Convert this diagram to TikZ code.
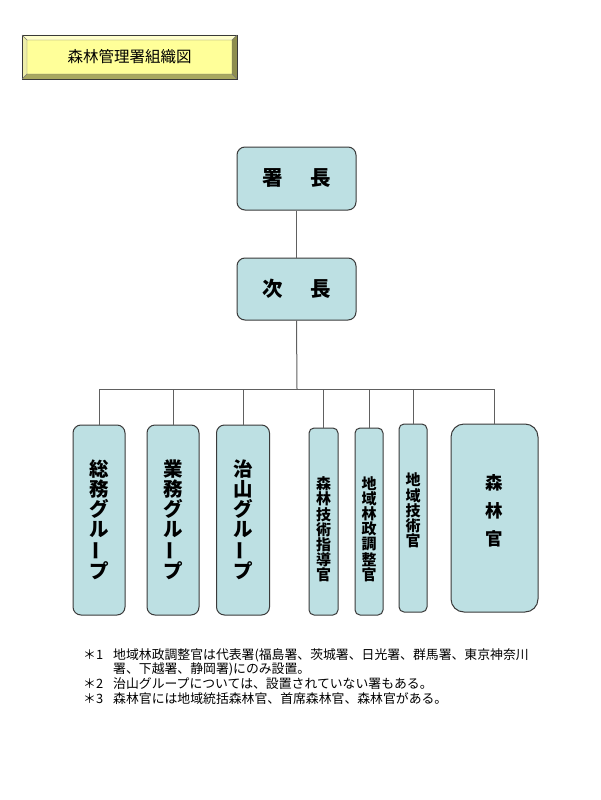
\documentclass[tikz,border=0pt]{standalone}
\usepackage{fontspec}
\usepackage{graphicx}
\setmainfont{Noto Sans CJK JP}
\definecolor{boxfill}{HTML}{BDE0E3}
\definecolor{boxline}{HTML}{3A3A3A}
\definecolor{conn}{HTML}{606060}
\definecolor{tface}{HTML}{FFFF99}
\definecolor{ttop}{HTML}{FFFFCC}
\definecolor{tleft}{HTML}{EEEEA8}
\definecolor{tbot}{HTML}{A8A860}
\definecolor{tright}{HTML}{8E8E4E}
\newcommand\chonpu{\rotatebox[origin=c]{90}{ー}}
\begin{document}
\begin{tikzpicture}[x=1pt,y=-1pt,
  orgbox/.style={draw=boxline, fill=boxfill, rounded corners=8pt, line width=1pt, inner sep=0pt, align=center},
  boxtxt/.style={inner sep=0pt, align=center},
  bigtxt/.style={font=\fontsize{19.5}{19.8}\selectfont\bfseries},
  midtxt/.style={font=\fontsize{15}{15.2}\selectfont\bfseries},
  toptxt/.style={font=\fontsize{20.5}{22}\selectfont\bfseries},
  link/.style={draw=conn, line width=1pt},
  note/.style={font=\fontsize{12.85}{14}\selectfont, anchor=west, inner sep=0pt}]
\fill[white] (0,0) rectangle (601,800);
\useasboundingbox (0,0) rectangle (601,800);
% title plate
\fill[ttop] (22,35) -- (237,35) -- (232,40) -- (27,40) -- cycle;
\fill[tleft] (22,35) -- (27,40) -- (27,74) -- (22,79) -- cycle;
\fill[tbot] (22,79) -- (27,74) -- (232,74) -- (237,79) -- cycle;
\fill[tright] (237,35) -- (237,79) -- (232,74) -- (232,40) -- cycle;
\fill[tface] (27,40) rectangle (232,74);
\draw[boxline, line width=0.6pt] (22,35) rectangle (237,79);
\draw[boxline!70, line width=0.4pt] (27,40) rectangle (232,74)
  (22,35) -- (27,40) (237,35) -- (232,40) (22,79) -- (27,74) (237,79) -- (232,74);
\node[font=\fontsize{15.5}{17}\selectfont] (title) at (129.5,57) {森林管理署組織図};
% boxes
\node[orgbox, toptxt, minimum width=119pt, minimum height=63pt] (shocho) at (296.5,178.5) {署\hspace{28pt}長};
\node[orgbox, toptxt, minimum width=119pt, minimum height=62pt] (jicho) at (296.5,289) {次\hspace{28pt}長};
\node[orgbox, bigtxt, minimum width=52pt, minimum height=190pt] (g1) at (99,520) {総\\務\\グ\\ル\\\chonpu\\プ};
\node[orgbox, bigtxt, minimum width=52pt, minimum height=190pt] (g2) at (173,520) {業\\務\\グ\\ル\\\chonpu\\プ};
\node[orgbox, bigtxt, minimum width=53pt, minimum height=190pt] (g3) at (243,520) {治\\山\\グ\\ル\\\chonpu\\プ};
\node[orgbox, rounded corners=5pt, minimum width=29pt, minimum height=187pt] (g4) at (323.5,521.5) {};
\node[orgbox, rounded corners=5pt, minimum width=28pt, minimum height=187pt] (g5) at (369,521.5) {};
\node[orgbox, rounded corners=5pt, minimum width=28pt, minimum height=188pt] (g6) at (413,518) {};
\node[orgbox, rounded corners=13pt, minimum width=87pt, minimum height=188pt] (g7) at (494.5,518) {};
\node[boxtxt, midtxt] (t4) at (323.5,529.5) {森\\林\\技\\術\\指\\導\\官};
\node[boxtxt, midtxt] (t5) at (369,529) {地\\域\\林\\政\\調\\整\\官};
\node[boxtxt, midtxt] (t6) at (413,510.5) {地\\域\\技\\術\\官};
\node[boxtxt, font=\fontsize{17.5}{28}\selectfont\bfseries] (t7) at (494.5,511) {森\\林\\官};
% connectors
\coordinate (bus) at (297,389);
\draw[link] (shocho.south) -- (jicho.north);
\draw[link] (jicho.south) -- (bus);
\draw[link] (g1.north) -- (g1.north |- bus) -- (g7.north |- bus) -- (g7.north);
\foreach \g in {g2,g3,g4,g5,g6} \draw[link] (\g.north) -- (\g.north |- bus);
% footnotes
\node[note] (m1) at (83,655) {＊1};
\node[note] (n1) at (113,655) {地域林政調整官は代表署(福島署、茨城署、日光署、群馬署、東京神奈川};
\node[note] (n1b) at (113,669.5) {署、下越署、静岡署)にのみ設置。};
\node[note] (m2) at (83,684) {＊2};
\node[note] (n2) at (113,684) {治山グループについては、設置されていない署もある。};
\node[note] (m3) at (83,698.5) {＊3};
\node[note] (n3) at (113,698.5) {森林官には地域統括森林官、首席森林官、森林官がある。};
\end{tikzpicture}
\end{document}
